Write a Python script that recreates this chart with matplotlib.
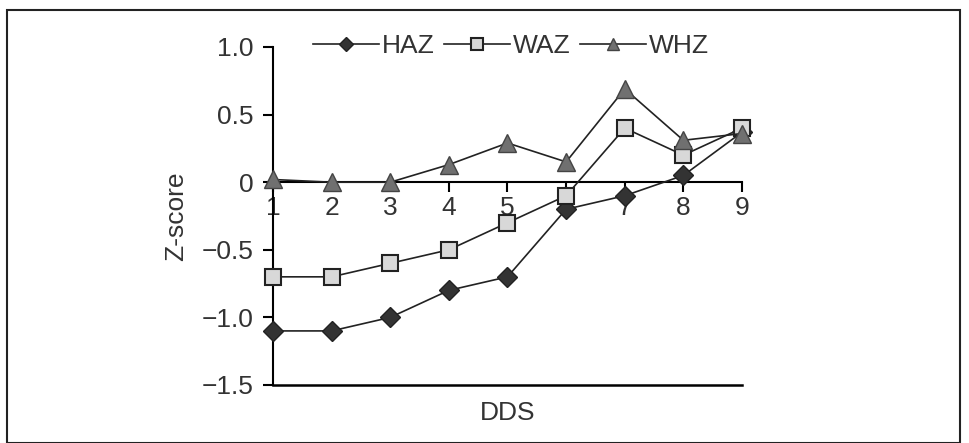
import matplotlib
matplotlib.use("Agg")
import matplotlib.pyplot as plt
from matplotlib.patches import Rectangle

plt.rcParams['font.family'] = ['Liberation Sans', 'DejaVu Sans']

dds = [1, 2, 3, 4, 5, 6, 7, 8, 9]
haz = [-1.1, -1.1, -1.0, -0.8, -0.7, -0.2, -0.1, 0.05, 0.37]
waz = [-0.7, -0.7, -0.6, -0.5, -0.3, -0.1, 0.4, 0.2, 0.4]
whz = [0.02, 0.0, 0.0, 0.13, 0.29, 0.15, 0.69, 0.31, 0.36]
x_ticklabels = ['1', '2', '3', '4', '5', '6', '7', '8', '9']
y_ticks = [1.0, 0.5, 0.0, -0.5, -1.0, -1.5]
y_ticklabels = ['1.0', '0.5', '0', '\u22120.5', '\u22121.0', '\u22121.5']

fig = plt.figure(figsize=(9.7, 4.43), dpi=100)
ax = fig.add_axes([273/970, 1-385/443, (742-273)/970, (385-47)/443])

fs = 19
tc = '#333333'
ax.plot(dds, haz, color='#222222', lw=1.2, marker='D', ms=10.5,
        mfc='#333333', mec='#222222', label='HAZ', clip_on=False, zorder=3)
ax.plot(dds, waz, color='#222222', lw=1.2, marker='s', ms=12,
        mfc='#d8d8d8', mec='#222222', mew=1.5, label='WAZ', clip_on=False, zorder=3)
ax.plot(dds, whz, color='#222222', lw=1.2, marker='^', ms=13,
        mfc='#707070', mec='#444444', label='WHZ', clip_on=False, zorder=4)

for s in ['top', 'right']:
    ax.spines[s].set_visible(False)
ax.spines['bottom'].set_position(('data', 0))
ax.spines['bottom'].set_linewidth(1.5)
ax.spines['left'].set_linewidth(1.5)
ax.axhline(-1.5, color='black', lw=1.8, clip_on=False)

ax.set_xlim(1, 9)
ax.set_ylim(-1.5, 1.0)
ax.set_xticks(dds)
ax.set_xticklabels(x_ticklabels, fontsize=fs, color=tc)
ax.set_yticks(y_ticks)
ax.set_yticklabels(y_ticklabels, fontsize=fs, color=tc)
ax.tick_params(axis='y', direction='out', length=7, width=1.5, pad=7)
ax.tick_params(axis='x', direction='out', length=7, width=1.5, pad=3)

ax.set_ylabel('Z-score', fontsize=fs, color=tc)
ax.yaxis.set_label_coords((188-273)/469, 0.5)
fig.text((273+742)/2/970, 1-413/443, 'DDS', fontsize=fs, color=tc,
         ha='center', va='center')

leg = ax.legend(loc='center', bbox_to_anchor=(511/970, 1-46/443),
                bbox_transform=fig.transFigure, ncol=3, frameon=False,
                fontsize=fs, handlelength=2.5, handletextpad=0.12,
                columnspacing=0.35, borderpad=0, markerscale=0.7)
for t in leg.get_texts():
    t.set_color(tc)

fig.patches.append(Rectangle((7/970, 0), (960-7)/970, 1-10/443,
                             transform=fig.transFigure, fill=False,
                             edgecolor='#222222', lw=1.5, clip_on=False))

fig.savefig('out.png', dpi=100)
